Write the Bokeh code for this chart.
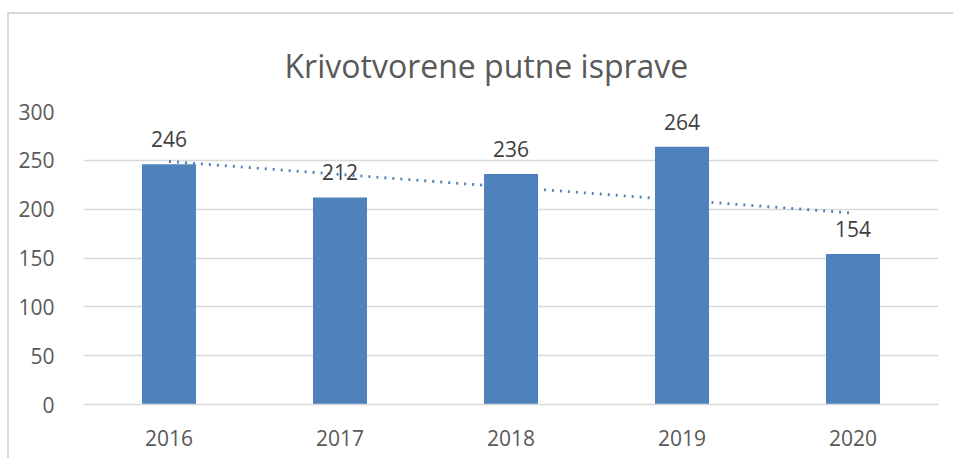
import numpy as np
from bokeh.plotting import figure
from bokeh.models import FactorRange, Range1d, ColumnDataSource, FixedTicker
from bokeh.core.properties import value
from bokeh.embed import file_html
from bokeh.resources import INLINE

title_text = "Krivotvorene putne isprave"
years = ["2016", "2017", "2018", "2019", "2020"]
counts = [246, 212, 236, 264, 154]
y_ticks = [0, 50, 100, 150, 200, 250, 300]

FONT = "Open Sans"
BAR = "#4F81BD"

p = figure(x_range=FactorRange(*years), y_range=Range1d(0, 300),
           width=946, height=446, output_backend="svg", toolbar_location=None,
           min_border_left=74, min_border_right=17, min_border_top=97, min_border_bottom=56,
           title=title_text)
p.styles = {"margin-top": "12px", "margin-left": "7px",
            "border-top": "2px solid #d9d9d9", "border-left": "2px solid #d9d9d9"}
p.outline_line_color = None

p.title.align = "left"
p.title.offset = 201
p.title.standoff = 50
p.title.text_font = FONT
p.title.text_font_size = "32px"
p.title.text_font_style = "normal"
p.title.text_color = "#595959"

src = ColumnDataSource(dict(x=years, y=counts, lab=[str(v) for v in counts]))
p.vbar(x="x", top="y", width=0.316, source=src, fill_color=BAR, line_color=None)

# linear trendline (as Excel computes it from the series)
idx = np.arange(len(counts))
k, b = np.polyfit(idx, counts, 1)
trend = [k * i + b for i in idx]
p.line(x=years, y=trend, line_color=BAR, line_width=2.8, line_dash="2 6")

p.text(x="x", y="y", text="lab", source=src, text_align="center", text_baseline="alphabetic",
       y_offset=-25, text_font=value(FONT), text_font_size="21px", text_color="#404040")

p.xgrid.grid_line_color = None
p.ygrid.grid_line_color = "#d9d9d9"
p.ygrid.grid_line_width = 1.3
p.yaxis.ticker = FixedTicker(ticks=y_ticks)
p.yaxis.axis_line_color = None
p.yaxis.major_tick_line_color = None
p.yaxis.minor_tick_line_color = None
p.yaxis.major_label_standoff = 23
p.xaxis.axis_line_color = "#d9d9d9"
p.xaxis.axis_line_width = 1.3
p.xaxis.major_tick_line_color = None
p.xaxis.minor_tick_line_color = None
p.xaxis.major_label_standoff = 19
for ax in (p.xaxis, p.yaxis):
    ax.major_label_text_font = FONT
    ax.major_label_text_font_size = "21px"
    ax.major_label_text_color = "#595959"

open("out.html", "w").write(file_html(p, INLINE))
